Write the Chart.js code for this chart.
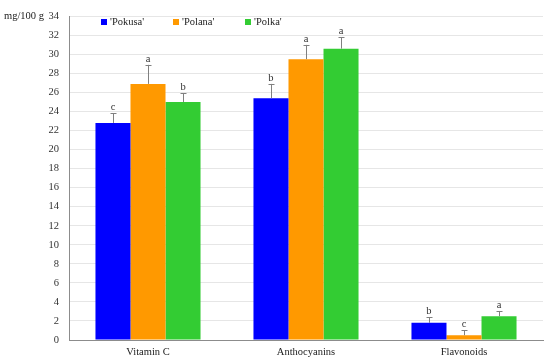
<!DOCTYPE html>
<html>
<head>
<meta charset="utf-8">
<script src="https://cdn.jsdelivr.net/npm/chart.js@4/dist/chart.umd.min.js"></script>
<style>
  html, body { margin: 0; padding: 0; background: #fff; }
  #wrap { width: 550px; height: 361px; }
</style>
</head>
<body>
<div id="wrap"><canvas id="myChart" width="550" height="361"></canvas></div>
<script>
// values
const categories = ["Vitamin C", "Anthocyanins", "Flavonoids"]
const cultivars = ["'Pokusa'", "'Polana'", "'Polka'"]
const colors = ["#0000ff", "#ff9900", "#33cc33"]

const pokusa = [22.8, 25.4, 1.8]
const polana = [26.9, 29.5, 0.5]
const polka = [25.0, 30.6, 2.5]

const pokusaErr = [1.0, 1.5, 0.6]
const polanaErr = [2.0, 1.5, 0.5]
const polkaErr = [0.9, 1.2, 0.55]

const pokusaLetters = ["c", "b", "b"]
const polanaLetters = ["a", "a", "c"]
const polkaLetters = ["b", "a", "a"]

const yTicks = [0, 2, 4, 6, 8, 10, 12, 14, 16, 18, 20, 22, 24, 26, 28, 30, 32, 34]

const serif = "'Liberation Serif', 'DejaVu Serif', serif"

const seriesValues = [pokusa, polana, polka]
const seriesErr = [pokusaErr, polanaErr, polkaErr]
const seriesLetters = [pokusaLetters, polanaLetters, polkaLetters]

// error bars (cap on top only) plus the significance letters
const errorBarPlugin = {
    id: 'errorBars',
    afterDatasetsDraw(chart) {
        const {ctx, scales} = chart
        const y = scales.y
        ctx.save()
        chart.data.datasets.forEach((ds, di) => {
            const meta = chart.getDatasetMeta(di)
            meta.data.forEach((bar, i) => {
                const v = seriesValues[di][i]
                const top = y.getPixelForValue(v + seriesErr[di][i])
                const base = y.getPixelForValue(v)
                ctx.strokeStyle = '#808080'
                ctx.lineWidth = 1
                ctx.beginPath()
                ctx.moveTo(Math.round(bar.x) + 0.5, base)
                ctx.lineTo(Math.round(bar.x) + 0.5, top)
                ctx.moveTo(Math.round(bar.x) - 2.5, Math.round(top) + 0.5)
                ctx.lineTo(Math.round(bar.x) + 3.5, Math.round(top) + 0.5)
                ctx.stroke()

                ctx.fillStyle = '#333'
                ctx.font = "10.5px " + serif
                ctx.textAlign = 'center'
                ctx.textBaseline = 'alphabetic'
                ctx.fillText(seriesLetters[di][i], bar.x, top - 3)
            })
        })
        ctx.restore()
    }
}

// legend sits inside the plot, plus the unit label next to the top tick
const legendPlugin = {
    id: 'innerLegend',
    afterDraw(chart) {
        const {ctx, scales} = chart
        ctx.save()
        ctx.font = "10.5px " + serif
        ctx.textBaseline = 'middle'
        ctx.textAlign = 'left'
        chart.data.datasets.forEach((ds, i) => {
            const x = 101 + i * 72
            const yy = 22
            ctx.fillStyle = ds.backgroundColor
            ctx.fillRect(x, yy - 3, 6, 6)
            ctx.fillStyle = '#222'
            ctx.fillText(ds.label, x + 9, yy)
        })
        ctx.fillStyle = '#222'
        ctx.textAlign = 'left'
        ctx.fillText("mg/100 g", 4, scales.y.getPixelForValue(34))
        ctx.restore()
    }
}

new Chart(document.querySelector("#myChart"), {
    type: 'bar',
    data: {
        labels: categories,
        datasets: cultivars.map((name, i) => ({
            label: name,
            data: seriesValues[i],
            backgroundColor: colors[i],
            borderWidth: 0,
            categoryPercentage: 0.665,
            barPercentage: 1.0,
        }))
    },
    options: {
        responsive: false,
        animation: false,
        devicePixelRatio: 1,
        layout: {padding: {left: 0, right: 7, top: 8, bottom: 0}},
        plugins: {
            legend: {display: false},
            tooltip: {enabled: false},
        },
        scales: {
            x: {
                grid: {display: false, drawTicks: false},
                border: {color: '#8c8c8c', width: 1},
                ticks: {
                    color: '#222',
                    font: {family: serif, size: 10.5},
                    padding: 6,
                },
                afterFit: (scale) => { scale.height = 21 },
            },
            y: {
                min: 0,
                max: 34,
                afterBuildTicks: (scale) => {
                    scale.ticks = yTicks.map(v => ({value: v}))
                },
                grid: {color: '#e6e6e6', drawTicks: false, lineWidth: 1},
                border: {color: '#8c8c8c', width: 1},
                ticks: {
                    color: '#333',
                    font: {family: serif, size: 10.5},
                    padding: 10,
                },
                afterFit: (scale) => { scale.width = 69 },
            }
        }
    },
    plugins: [errorBarPlugin, legendPlugin]
});
</script>
</body>
</html>
